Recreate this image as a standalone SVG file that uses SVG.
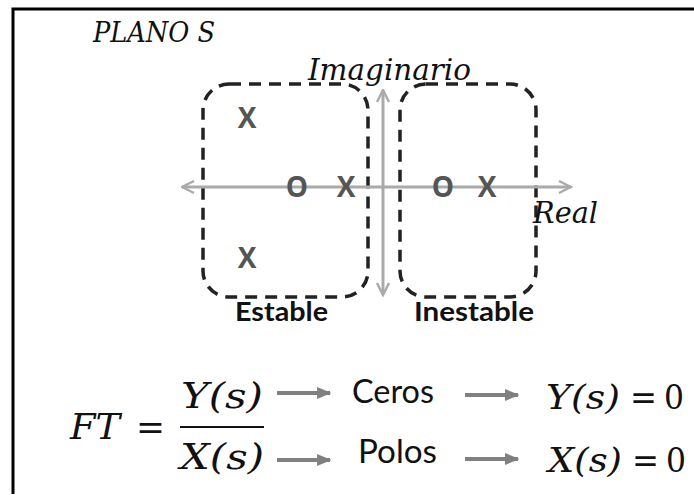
<svg xmlns="http://www.w3.org/2000/svg" width="694" height="495" viewBox="0 0 694 495">
<defs>
<style>
.ax{stroke:#aaaaaa;stroke-width:3;fill:none}
.box{stroke:#222;stroke-width:3.5;fill:none;stroke-dasharray:12 8}
.mk{font-family:"Open Sans","Noto Sans",sans-serif;font-weight:bold;font-size:28px;fill:#555;text-anchor:middle}
.math{font-family:"DejaVu Serif","Liberation Serif",serif;font-style:italic;fill:#111}
.mr{font-family:"DejaVu Serif","Liberation Serif",serif;fill:#111}
.lbl{font-family:Lato,"Open Sans",sans-serif;font-weight:bold;font-size:26px;fill:#111}
.word{font-family:Lato,"Open Sans",sans-serif;font-size:33px;fill:#111}
.arr{stroke:#808080;stroke-width:4;fill:none}
</style>
<marker id="ah" viewBox="0 0 10 10" refX="9" refY="5" markerWidth="5" markerHeight="5" orient="auto-start-reverse" markerUnits="strokeWidth">
<path d="M1,1 L9,5 L1,9" fill="none" stroke="#aaaaaa" stroke-width="1.6"/>
</marker>
<marker id="gh" viewBox="0 0 10 10" refX="9" refY="5" markerWidth="3.6" markerHeight="3" orient="auto" markerUnits="strokeWidth" preserveAspectRatio="none">
<path d="M0,0 L10,5 L0,10 Z" fill="#808080"/>
</marker>
</defs>
<path d="M13,494 L13,9 L694,9" stroke="#000" stroke-width="3" fill="none"/>
<text class="math" x="93" y="42" font-size="27" textLength="122" lengthAdjust="spacingAndGlyphs">PLANO S</text>
<g id="estable">
<rect class="box" x="203" y="84" width="165" height="213" rx="26"/>
<text class="lbl" x="235" y="321" textLength="93" lengthAdjust="spacingAndGlyphs">Estable</text>
</g>
<g id="inestable">
<rect class="box" x="400" y="84" width="136" height="213" rx="26"/>
<text class="lbl" x="414" y="321" textLength="120" lengthAdjust="spacingAndGlyphs">Inestable</text>
</g>
<g id="axes">
<line class="ax" x1="182" y1="187" x2="571" y2="187" marker-start="url(#ah)" marker-end="url(#ah)"/>
<line class="ax" x1="383" y1="90" x2="383" y2="295" marker-start="url(#ah)" marker-end="url(#ah)"/>
<text class="math" x="308" y="80" font-size="29" textLength="163" lengthAdjust="spacingAndGlyphs">Imaginario</text>
<text class="math" x="533" y="223" font-size="29" textLength="65" lengthAdjust="spacingAndGlyphs">Real</text>
</g>
<g id="marks">
<text class="mk" x="247" y="128">X</text>
<text class="mk" x="247" y="268">X</text>
<text class="mk" x="297" y="197">O</text>
<text class="mk" x="346" y="197">X</text>
<text class="mk" x="443" y="197">O</text>
<text class="mk" x="487" y="197">X</text>
</g>
<g id="ft">
<text class="math" x="70" y="439" font-size="36" textLength="50" lengthAdjust="spacingAndGlyphs">FT</text>
<text class="mr" x="136" y="439" font-size="36" textLength="29" lengthAdjust="spacingAndGlyphs">=</text>
<text class="math" x="181" y="408" font-size="36" textLength="82" lengthAdjust="spacingAndGlyphs">Y(s)</text>
<line x1="180" y1="427" x2="264" y2="427" stroke="#111" stroke-width="2"/>
<text class="math" x="180" y="469" font-size="36" textLength="84" lengthAdjust="spacingAndGlyphs">X(s)</text>
</g>
<g id="connectors">
<line class="arr" x1="277" y1="393" x2="330" y2="393" marker-end="url(#gh)"/>
<line class="arr" x1="277" y1="460" x2="330" y2="460" marker-end="url(#gh)"/>
<line class="arr" x1="465" y1="395" x2="518" y2="395" marker-end="url(#gh)"/>
<line class="arr" x1="465" y1="459" x2="518" y2="459" marker-end="url(#gh)"/>
</g>
<g id="ceros">
<text class="word" x="352" y="403" textLength="82" lengthAdjust="spacingAndGlyphs">Ceros</text>
</g>
<g id="polos">
<text class="word" x="358" y="463" textLength="79" lengthAdjust="spacingAndGlyphs">Polos</text>
</g>
<g id="yzero">
<text class="math" x="546" y="409" font-size="34" textLength="74" lengthAdjust="spacingAndGlyphs">Y(s)</text>
<text class="mr" x="630" y="409" font-size="34" textLength="27" lengthAdjust="spacingAndGlyphs">=</text>
<text class="mr" x="664" y="409" font-size="34" textLength="20" lengthAdjust="spacingAndGlyphs">0</text>
</g>
<g id="xzero">
<text class="math" x="548" y="472" font-size="34" textLength="74" lengthAdjust="spacingAndGlyphs">X(s)</text>
<text class="mr" x="632" y="472" font-size="34" textLength="27" lengthAdjust="spacingAndGlyphs">=</text>
<text class="mr" x="666" y="472" font-size="34" textLength="20" lengthAdjust="spacingAndGlyphs">0</text>
</g>
</svg>
